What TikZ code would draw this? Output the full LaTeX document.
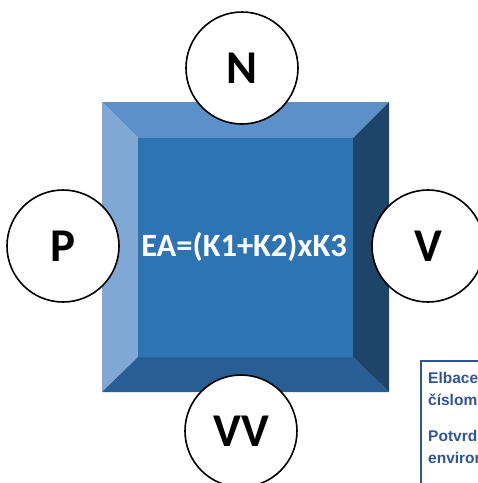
\documentclass[tikz,border=0pt]{standalone}
\usepackage{fontspec}
\setmainfont{Carlito}
\newfontfamily\boxfont{Liberation Sans}
\definecolor{facetop}{HTML}{5B91C8}
\definecolor{faceleft}{HTML}{80A8D4}
\definecolor{faceinner}{HTML}{2E73B4}
\definecolor{facebottom}{HTML}{285E93}
\definecolor{faceright}{HTML}{1F4469}
\definecolor{notecol}{HTML}{2F5597}
\begin{document}
\begin{tikzpicture}[x=1pt,y=-1pt,
  roundel/.style={circle,draw=black,line width=1.6pt,fill=white,minimum size=112pt,inner sep=0pt,font=\fontsize{47}{47}\selectfont\bfseries},
  notetext/.style={anchor=base west,inner sep=0pt,text=notecol,font=\boxfont\fontsize{15.5}{15.5}\selectfont\bfseries}]
\useasboundingbox (0,0) rectangle (478,483);
% bevelled square
\coordinate (o1) at (102,102); \coordinate (o2) at (389,102);
\coordinate (o3) at (389,392); \coordinate (o4) at (102,392);
\coordinate (i1) at (138,138); \coordinate (i2) at (353,138);
\coordinate (i3) at (353,357); \coordinate (i4) at (138,357);
\fill[facetop] (o1) -- (o2) -- (i2) -- (i1) -- cycle;
\fill[faceleft] (o1) -- (i1) -- (i4) -- (o4) -- cycle;
\fill[facebottom] (o4) -- (i4) -- (i3) -- (o3) -- cycle;
\fill[faceright] (o2) -- (o3) -- (i3) -- (i2) -- cycle;
\fill[faceinner] (i1) rectangle (i3);
\node[text=white,font=\fontsize{32.5}{32.5}\selectfont\bfseries] (eq) at (244,247) {EA=(K1+K2)xK3};
% circles
\node[roundel] (N) at (242,68) {N};
\node[roundel] (P) at (63,246) {P};
\node[roundel] (V) at (428,246) {V};
\node[roundel] (VV) at (241,431) {VV};
% clipped note box
\begin{scope}
\clip (418,359) rectangle (478,483);
\draw[notecol,line width=2pt,fill=white] (421,361) rectangle (520,520);
\node[notetext] (t1) at (428,383) {Elbace};
\node[notetext] (t2) at (428,405) {číslom};
\node[notetext] (t3) at (428,441) {Potvrd};
\node[notetext] (t4) at (428,463) {environ};
\end{scope}
\end{tikzpicture}
\end{document}
